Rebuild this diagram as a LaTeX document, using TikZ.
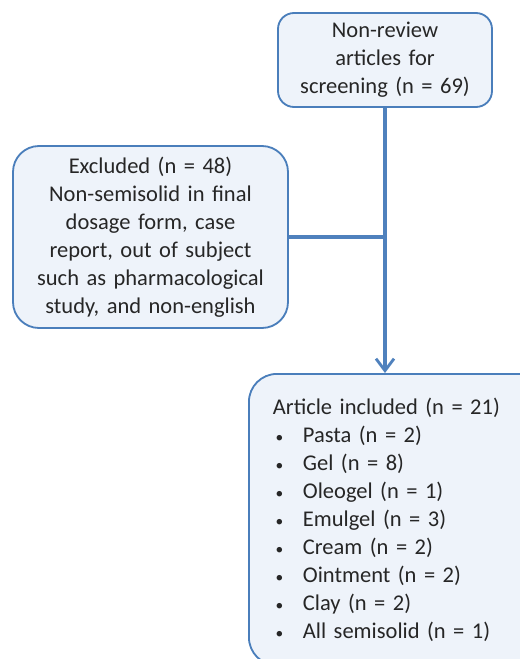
\documentclass[tikz,border=0pt]{standalone}
\usepackage{fontspec}
\setmainfont{Carlito}
\usetikzlibrary{arrows.meta}
\definecolor{boxline}{HTML}{4A7EBB}
\definecolor{boxfill}{HTML}{EEF3FA}
\definecolor{linkblue}{HTML}{4F81BD}
\newcommand{\itm}{\makebox[0.75cm][l]{\hspace{0.07cm}{\fontsize{11pt}{11pt}\selectfont\textbullet}}}

\begin{document}
\begin{tikzpicture}[
  box/.style={draw=boxline, fill=boxfill, line width=1.3pt, rounded corners=0.5cm,
    text=black!85, font=\fontsize{16pt}{19.9pt}\selectfont},
  link/.style={linkblue, line width=2.2pt}]
\useasboundingbox (0,0) rectangle (13,-16.475);

\node[box, rounded corners=0.4cm, align=center, text width=5cm,
  minimum width=5.35cm, minimum height=2.35cm] (screen) at (9.625,-1.5)
  {Non-review\\articles for\\screening (n = 69)};

\node[box, rounded corners=0.65cm, align=center, text width=6.5cm,
  minimum width=6.875cm, minimum height=4.55cm] (excl) at (3.7625,-5.925)
  {Excluded (n = 48)\\Non-semisolid in final\\dosage form, case\\report, out of subject\\such as pharmacological\\study, and non-english};

\node[box, rounded corners=0.7cm, anchor=north west, align=left, text width=6.6cm,
  inner xsep=0.6cm, inner ysep=0.6cm] (incl) at (6.2,-9.325)
  {Article included (n = 21)\\
   \itm Pasta (n = 2)\\
   \itm Gel (n = 8)\\
   \itm Oleogel (n = 1)\\
   \itm Emulgel (n = 3)\\
   \itm Cream (n = 2)\\
   \itm Ointment (n = 2)\\
   \itm Clay (n = 2)\\
   \itm All semisolid (n = 1)};

\draw[link] (excl.east) -- (excl.east -| screen.south);
\draw[link, -{Straight Barb[length=0.3cm, width=0.45cm, line width=2pt]}]
  (screen.south) -- (screen.south |- incl.north);
\end{tikzpicture}
\end{document}
